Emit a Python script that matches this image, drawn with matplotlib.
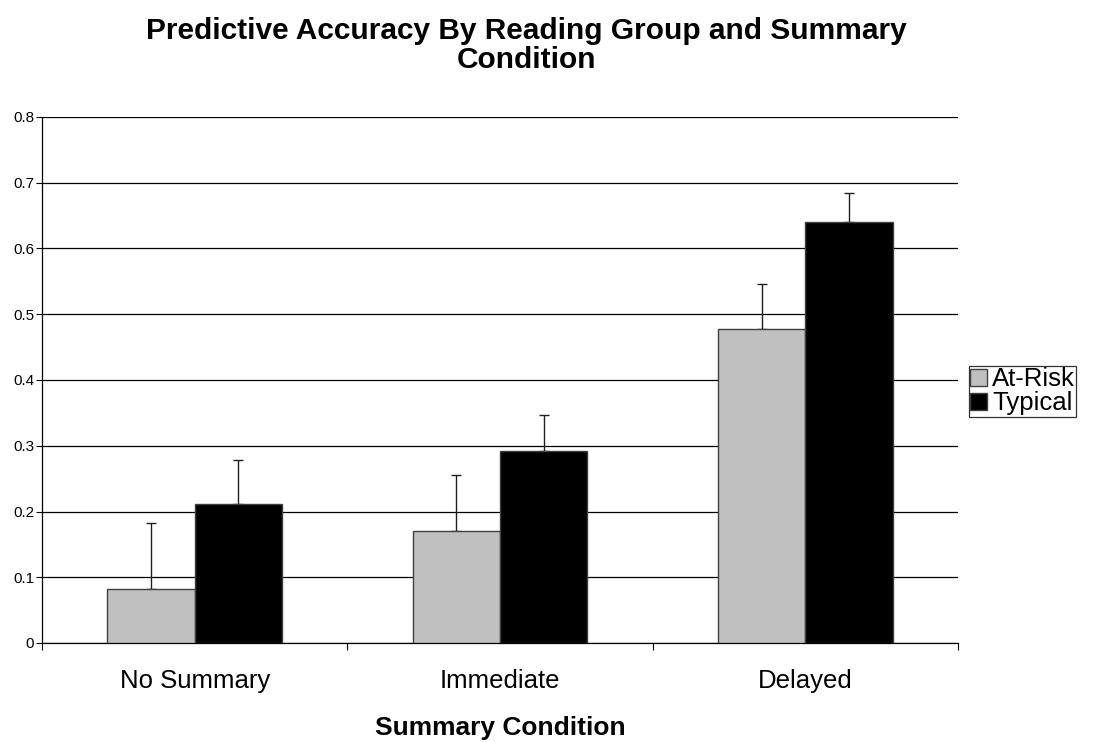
import matplotlib
matplotlib.use("Agg")
import matplotlib.pyplot as plt
import numpy as np

plt.rcParams['font.family'] = ['Liberation Sans', 'DejaVu Sans']

categories = ["No Summary", "Immediate", "Delayed"]
series_names = ["At-Risk", "Typical"]
at_risk = [0.082, 0.171, 0.477]
at_risk_err = [0.100, 0.085, 0.069]
typical = [0.211, 0.292, 0.641]
typical_err = [0.067, 0.055, 0.044]
yticks = [0, 0.1, 0.2, 0.3, 0.4, 0.5, 0.6, 0.7, 0.8]
ytick_labels = ["0", "0.1", "0.2", "0.3", "0.4", "0.5", "0.6", "0.7", "0.8"]

fig = plt.figure(figsize=(10.93, 7.42), dpi=100)
ax = fig.add_axes([42/1093, 1-643/742, (958-42)/1093, (643-117)/742])

x = np.arange(len(categories))
w = 1/3.5
ax.bar(x - w/2, at_risk, width=w, color="#C0C0C0", edgecolor="#404040", linewidth=1, label=series_names[0], zorder=3)
ax.bar(x + w/2, typical, width=w, color="#000000", edgecolor="#404040", linewidth=1, label=series_names[1], zorder=3)
ax.errorbar(x - w/2, at_risk, yerr=[np.zeros(3), at_risk_err], fmt='none', ecolor="#202020", elinewidth=1, capsize=3.5, capthick=1, zorder=2)
ax.errorbar(x + w/2, typical, yerr=[np.zeros(3), typical_err], fmt='none', ecolor="#202020", elinewidth=1, capsize=3.5, capthick=1, zorder=2)

ax.set_xlim(-0.5, len(categories) - 0.5)
ax.set_ylim(0, 0.8)
ax.set_yticks(yticks)
ax.set_yticklabels(ytick_labels, fontsize=11)
ax.yaxis.grid(True, color="black", linewidth=0.9, zorder=0)
ax.set_axisbelow(True)

ax.set_xticks(x)
ax.set_xticklabels(categories, fontsize=18.5)
ax.tick_params(axis='x', which='major', length=0, pad=19)
ax.set_xticks(np.arange(len(categories) + 1) - 0.5, minor=True)
ax.tick_params(axis='x', which='minor', length=5, direction='out', width=0.8)
ax.tick_params(axis='y', length=4, direction='out', width=0.8, pad=1.5)

for s in ["top", "right"]:
    ax.spines[s].set_visible(False)
ax.spines["left"].set_linewidth(0.9)
ax.spines["bottom"].set_linewidth(0.9)

ax.set_xlabel("Summary Condition", fontsize=19, fontweight="bold", labelpad=16)
fig.suptitle("Predictive Accuracy By Reading Group and Summary\nCondition", fontsize=21.5, fontweight="bold",
             x=526/1093, y=0.977, linespacing=1.05)

leg = ax.legend(loc="upper left", bbox_to_anchor=(969/1093, 1-366/742), bbox_transform=fig.transFigure,
                fontsize=18.5, frameon=True, fancybox=False, edgecolor="black", handlelength=0.65, handleheight=0.65,
                handletextpad=0.2, borderpad=0.05, labelspacing=0.0, borderaxespad=0)
leg.get_frame().set_linewidth(0.9)

fig.savefig("out.png", dpi=100, facecolor="white")
